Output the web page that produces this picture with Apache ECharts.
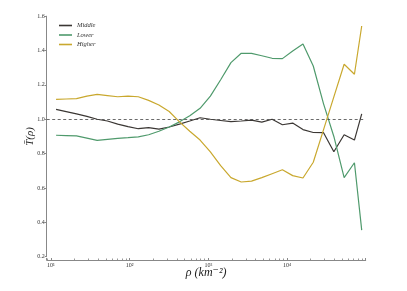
<!DOCTYPE html>
<html><head><meta charset="utf-8">
<script src="https://cdn.jsdelivr.net/npm/echarts@6/dist/echarts.min.js"></script>
<style>html,body{margin:0;padding:0;background:#fff}#c{width:407px;height:291px}</style>
</head><body><div id="c"></div>
<script>
const density = [11.6, 15.6, 21.1, 28.6, 38.6, 52.2, 70.5, 95.3, 128.8, 174.1, 235.3, 318.0, 429.8, 580.8, 785, 1061, 1434, 1938, 2618, 3538, 4782, 6462, 8733, 11803, 15950, 21555, 29131, 39368, 53209, 71910, 89000];
const middle = [1.058, 1.045, 1.031, 1.017, 1.000, 0.990, 0.972, 0.957, 0.945, 0.951, 0.943, 0.955, 0.972, 0.990, 1.009, 1.000, 0.993, 0.986, 0.990, 0.995, 0.983, 1.000, 0.968, 0.978, 0.940, 0.923, 0.922, 0.811, 0.910, 0.879, 1.031];
const lower = [0.907, 0.905, 0.903, 0.890, 0.877, 0.883, 0.889, 0.893, 0.898, 0.910, 0.930, 0.955, 0.985, 1.020, 1.064, 1.135, 1.230, 1.330, 1.384, 1.384, 1.370, 1.355, 1.353, 1.397, 1.438, 1.310, 1.090, 0.900, 0.660, 0.747, 0.355];
const higher = [1.116, 1.118, 1.120, 1.135, 1.145, 1.138, 1.131, 1.135, 1.131, 1.110, 1.083, 1.045, 0.985, 0.930, 0.879, 0.810, 0.730, 0.660, 0.635, 0.640, 0.660, 0.683, 0.706, 0.672, 0.658, 0.750, 0.940, 1.130, 1.320, 1.262, 1.543];
const seriesNames = ['Middle', 'Lower', 'Higher'];
const xTickLabels = {1: '10¹', 2: '10²', 3: '10³', 4: '10⁴'};

const serif = '"Liberation Serif", "DejaVu Serif", serif';
const colors = ['#3b3734', '#4f9a6c', '#c9a82e'];
const chart = echarts.init(document.getElementById('c'), null, {renderer: 'canvas'});
const mk = (name, vals, i) => ({
  name, type: 'line', showSymbol: false, symbol: 'none',
  data: density.map((d, k) => [d, vals[k]]),
  lineStyle: {width: 1.2, color: colors[i]}, itemStyle: {color: colors[i]},
  z: 3 + i
});
const s0 = mk(seriesNames[0], middle, 0);
s0.markLine = {silent: true, symbol: 'none', label: {show: false},
  lineStyle: {type: [3, 2.5], color: '#444', width: 0.8},
  data: [{yAxis: 1}]};
chart.setOption({
  animation: false,
  backgroundColor: '#fff',
  grid: {left: 46.7, right: 41.3, top: 16.2, bottom: 34.3},
  legend: {
    data: seriesNames, orient: 'vertical', left: 54, top: 17,
    icon: 'rect', itemWidth: 13, itemHeight: 1.6, itemGap: 2.5,
    textStyle: {fontFamily: serif, fontStyle: 'italic', fontSize: 6.5, color: '#333'}
  },
  xAxis: {
    type: 'log', logBase: 10, min: 8.82, max: 100000, offset: 3.3,
    name: 'ρ (km⁻²)', nameLocation: 'middle', nameGap: 7, nameMoveOverlap: false,
    nameTextStyle: {fontFamily: serif, fontStyle: 'italic', fontSize: 12, color: '#222', verticalAlign: 'top'},
    axisLine: {show: true, lineStyle: {color: '#888', width: 1}},
    axisTick: {show: true, inside: true, length: 2, lineStyle: {color: '#888'}},
    minorTick: {show: true, splitNumber: 9, length: 1.5, lineStyle: {color: '#999'}},
    splitLine: {show: false},
    axisLabel: {
      fontFamily: serif, fontSize: 6, color: '#333', margin: 2,
      formatter: v => { const l = Math.log10(v); const r = Math.round(l); return Math.abs(l - r) < 1e-6 && xTickLabels[r] ? xTickLabels[r] : ''; }
    }
  },
  yAxis: {
    type: 'value', min: 0.2, max: 1.6, interval: 0.2,
    name: 'T̄(ρ)', nameLocation: 'middle', nameGap: 11, nameMoveOverlap: false,
    nameTextStyle: {fontFamily: serif, fontStyle: 'italic', fontSize: 11, color: '#222'},
    axisLine: {show: true, lineStyle: {color: '#888', width: 1}},
    axisTick: {show: true, inside: false, length: 2, lineStyle: {color: '#888'}},
    splitLine: {show: false},
    axisLabel: {fontFamily: serif, fontSize: 6, color: '#333', margin: 2, formatter: v => v.toFixed(1)}
  },
  series: [s0, mk(seriesNames[1], lower, 1), mk(seriesNames[2], higher, 2)]
});
</script></body></html>
